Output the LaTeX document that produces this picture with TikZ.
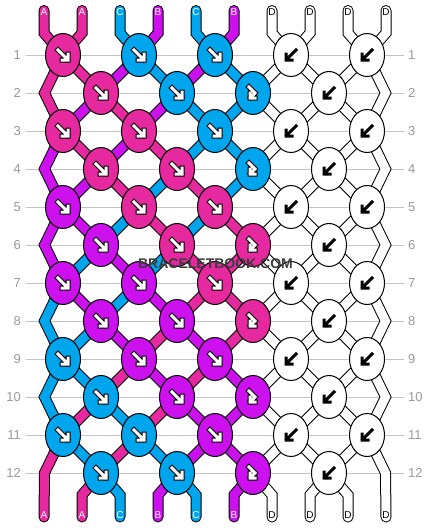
\documentclass[tikz,border=0pt]{standalone}
\usepackage{fontspec}
\setmainfont{Liberation Sans}
\definecolor{pinkc}{HTML}{E6299E}
\definecolor{purplec}{HTML}{CC11EE}
\definecolor{bluec}{HTML}{00A6ED}
\definecolor{rowgray}{HTML}{C4C4C4}
\definecolor{numgray}{HTML}{9A9A9A}
\definecolor{wmgray}{HTML}{3C3C3C}
\tikzset{
  rowline/.style={rowgray, line width=1pt},
  rownum/.style={text=numgray, font=\fontsize{13}{13}\selectfont, inner sep=0pt},
  endlabel/.style={font=\fontsize{10}{10}\selectfont, inner sep=0pt},
  wmtext/.style={font=\fontsize{14}{14}\selectfont\bfseries, inner sep=0pt},
  knot/.style={draw=black, line width=1pt},
  pics/fwdarrow/.style={code={
    \foreach \w/\col in {5/black,3/white}
      \draw[\col, line width=\w pt, line cap=rect, line join=miter] (-5,-5) -- (4.5,4.5) (-1,5) -- (5,5) -- (5,-1);
  }},
  pics/bwdarrow/.style={code={
    \draw[black, line width=3pt, line cap=rect, line join=miter] (5,-5) -- (-4.5,4.5) (1,5) -- (-5,5) -- (-5,-1);
  }},
  pics/fbarrow/.style={code={
    \foreach \w/\col in {5/black,3/white}
      \draw[\col, line width=\w pt, line cap=rect, line join=miter] (-4,-6) -- (2,0) -- (-2.5,4.5) (-3,0) -- (-3,5) -- (2,5);
  }},
}
\newcommand\strandpaths{%
  \foreach \s [count=\p] in {sA,sA,sC,sB,sC,sB,sD,sD,sD,sD} {
    \pgfmathtruncatemacro\kc{(\p+1)/2}
    \draw[\s] (t-\p) -- (tb-\p) -- (k-1-\kc);
  }
  \foreach \r/\cols in {1/{sA,sA,sB,sC,sB,sC,sD,sD,sD,sD},
                        2/{sA,sB,sA,sB,sC,sC,sD,sD,sD,sD},
                        3/{sB,sA,sB,sA,sC,sC,sD,sD,sD,sD},
                        4/{sB,sB,sA,sC,sA,sC,sD,sD,sD,sD},
                        5/{sB,sB,sC,sA,sC,sA,sD,sD,sD,sD},
                        6/{sB,sC,sB,sC,sA,sA,sD,sD,sD,sD},
                        7/{sC,sB,sC,sB,sA,sA,sD,sD,sD,sD},
                        8/{sC,sC,sB,sA,sB,sA,sD,sD,sD,sD},
                        9/{sC,sC,sA,sB,sA,sB,sD,sD,sD,sD},
                        10/{sC,sA,sC,sA,sB,sB,sD,sD,sD,sD},
                        11/{sA,sC,sA,sC,sB,sB,sD,sD,sD,sD}} {
    \pgfmathtruncatemacro\rn{\r+1}
    \foreach \s [count=\p] in \cols {
      \ifnum\p>1\relax\ifnum\p<10\relax
        \ifodd\r\relax
          \pgfmathtruncatemacro\ka{(\p+1)/2}\pgfmathtruncatemacro\kb{\p/2}
        \else
          \pgfmathtruncatemacro\ka{\p/2}\pgfmathtruncatemacro\kb{(\p+1)/2}
        \fi
        \draw[\s] (k-\r-\ka) -- (k-\rn-\kb);
      \fi\fi
    }
  }
  \foreach \r/\s in {2/sA,4/sB,6/sB,8/sC,10/sC} {
    \pgfmathtruncatemacro\ra{\r-1}\pgfmathtruncatemacro\rb{\r+1}
    \draw[\s] (k-\ra-1) -- (k-\r-0) -- (k-\rb-1);
    \draw[sD] (k-\ra-5) -- (k-\r-5) -- (k-\rb-5);
  }
  \draw[sA] (k-11-1) -- (k-12-0) -- (b-1);
  \draw[sD] (k-11-5) -- (k-12-5) -- (b-10);
  \foreach \s [count=\p] in {sA,sA,sC,sB,sC,sB,sD,sD,sD,sD} {
    \ifnum\p>1\relax\ifnum\p<10\relax
      \pgfmathtruncatemacro\kc{\p/2}
      \draw[\s] (k-12-\kc) -- (bb-\p) -- (b-\p);
    \fi\fi
  }
}

\begin{document}
\begin{tikzpicture}[x=1pt, y=-1pt]%
  \useasboundingbox (0,0) rectangle (430,528);
  \fill[white] (0,0) rectangle (430,528);
  \foreach \r in {1,3,...,11}
    \foreach \c in {1,...,5}
      \coordinate (k-\r-\c) at ({63+76*(\c-1)}, {55+38*(\r-1)});
  \foreach \r in {2,4,...,12} {
    \foreach \c in {1,...,4}
      \coordinate (k-\r-\c) at ({101+76*(\c-1)}, {55+38*(\r-1)});
    \coordinate (k-\r-0) at (44.5, {55+38*(\r-1)});
    \coordinate (k-\r-5) at (385.5, {55+38*(\r-1)});
  }
  \foreach \p in {1,...,10} {
    \coordinate (t-\p) at ({44+38*(\p-1)}, 10.5);
    \coordinate (tb-\p) at ({44+38*(\p-1)}, 33);
    \coordinate (bb-\p) at ({44+38*(\p-1)}, 495);
    \coordinate (b-\p) at ({44+38*(\p-1)}, 517);
  }
  \foreach \r in {1,...,12} {
    \coordinate (ll-\r) at (26, {55+38*(\r-1)});
    \coordinate (lr-\r) at (404, {55+38*(\r-1)});
    \draw[rowline] (ll-\r) -- (lr-\r);
    \node[rownum, anchor=east] (nl-\r) at (21, {55+38*(\r-1)}) {\r};
    \node[rownum, anchor=west] (nr-\r) at (408, {55+38*(\r-1)}) {\r};
  }
  \begin{scope}[line width=11pt, line cap=round, line join=miter,
      sA/.style={draw=black}, sB/.style={draw=black}, sC/.style={draw=black}, sD/.style={draw=black}]
    \strandpaths
  \end{scope}
  \begin{scope}[line width=9pt, line cap=round, line join=miter,
      sA/.style={draw=pinkc}, sB/.style={draw=purplec}, sC/.style={draw=bluec}, sD/.style={draw=white}]
    \strandpaths
  \end{scope}
  \foreach \r/\cols in {1/{pinkc,bluec,bluec,white,white}, 2/{pinkc,bluec,bluec,white},
                        3/{pinkc,pinkc,bluec,white,white}, 4/{pinkc,pinkc,bluec,white},
                        5/{purplec,pinkc,pinkc,white,white}, 6/{purplec,pinkc,pinkc,white},
                        7/{purplec,purplec,pinkc,white,white}, 8/{purplec,purplec,pinkc,white},
                        9/{bluec,purplec,purplec,white,white}, 10/{bluec,purplec,purplec,white},
                        11/{bluec,bluec,purplec,white,white}, 12/{bluec,bluec,purplec,white}}
    \foreach \f [count=\c] in \cols
      \draw[knot, fill=\f] (k-\r-\c) ellipse [x radius=17.5, y radius=21.5];
  \foreach \r in {1,3,...,11} {
    \foreach \c in {1,2,3} \pic at (k-\r-\c) {fwdarrow};
    \foreach \c in {4,5} \pic at (k-\r-\c) {bwdarrow};
  }
  \foreach \r in {2,4,...,12} {
    \foreach \c in {1,2} \pic at (k-\r-\c) {fwdarrow};
    \pic at (k-\r-3) {fbarrow};
    \pic at (k-\r-4) {bwdarrow};
  }
  \foreach \t/\tc [count=\p] in {A/white,A/white,C/white,B/white,C/white,B/white,D/black,D/black,D/black,D/black} {
    \node[endlabel, text=\tc] (lt-\p) at ({44+38*(\p-1)}, 12.5) {\t};
    \node[endlabel, text=\tc] (lb-\p) at ({44+38*(\p-1)}, 515.5) {\t};
  }
  \node[wmtext, text=wmgray] (wm) at (215.5, 264) {BRACELETBOOK.COM};
\end{tikzpicture}
\end{document}
